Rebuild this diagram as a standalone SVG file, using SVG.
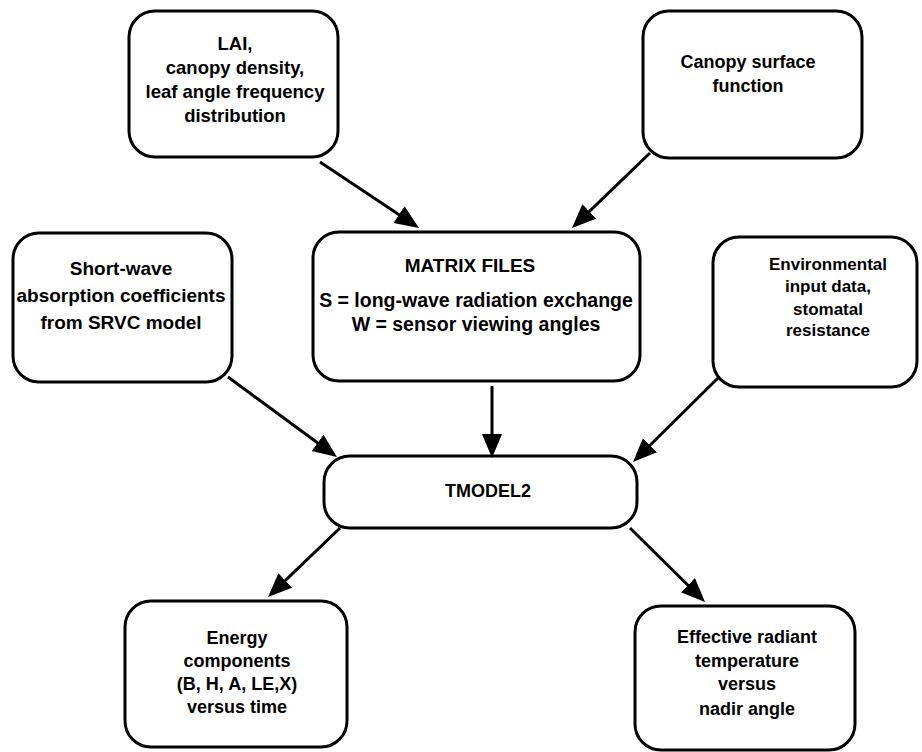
<svg xmlns="http://www.w3.org/2000/svg" width="922" height="752" viewBox="0 0 922 752">
<defs>
<style>
.box{fill:#fff;stroke:#000;stroke-width:3}
.t{font-family:"Liberation Sans",Arial,sans-serif;font-weight:bold;font-size:18px;fill:#000;text-anchor:middle}
.c{stroke:#000;stroke-width:3;fill:none;marker-end:url(#ah)}
</style>
<marker id="ah" markerUnits="userSpaceOnUse" markerWidth="26" markerHeight="22" viewBox="0 0 26 22" refX="15" refY="10" orient="auto">
<path d="M0,0 L24,10 L0,20 z" fill="#000"/>
</marker>
</defs>
<rect width="922" height="752" fill="#fff"/>
<g id="n-lai">
<rect class="box" x="129" y="11" width="209" height="146" rx="26"/>
<text class="t" x="235" y="50" style="font-size:18.5px">LAI,</text>
<text class="t" x="235" y="74" style="font-size:18.5px">canopy density,</text>
<text class="t" x="235" y="98" style="font-size:18.5px">leaf angle frequency</text>
<text class="t" x="235" y="122" style="font-size:18.5px">distribution</text>
</g>
<g id="n-canopy">
<rect class="box" x="643" y="11" width="219" height="147" rx="26"/>
<text class="t" x="748" y="68">Canopy surface</text>
<text class="t" x="748" y="92">function</text>
</g>
<g id="n-shortwave">
<rect class="box" x="13" y="233" width="219" height="149" rx="26"/>
<text class="t" x="121" y="275" style="font-size:19px">Short-wave</text>
<text class="t" x="121" y="302" style="font-size:19px">absorption coefficients</text>
<text class="t" x="121" y="329" style="font-size:19px">from SRVC model</text>
</g>
<g id="n-matrix">
<rect class="box" x="313" y="232" width="327" height="149" rx="26"/>
<text class="t" x="470" y="272" style="font-size:19px">MATRIX FILES</text>
<text class="t" x="476" y="307" style="font-size:19.5px">S = long-wave radiation exchange</text>
<text class="t" x="476" y="331" style="font-size:19.5px">W = sensor viewing angles</text>
</g>
<g id="n-env">
<rect class="box" x="713" y="237" width="204" height="150" rx="26"/>
<text class="t" x="828" y="270" style="font-size:17px">Environmental</text>
<text class="t" x="828" y="292" style="font-size:17px">input  data,</text>
<text class="t" x="828" y="315" style="font-size:17px">stomatal</text>
<text class="t" x="828" y="336" style="font-size:17px">resistance</text>
</g>
<g id="n-tmodel">
<rect class="box" x="324" y="456" width="313" height="72" rx="26"/>
<text class="t" x="488" y="497">TMODEL2</text>
</g>
<g id="n-energy">
<rect class="box" x="125" y="601" width="222" height="146" rx="26"/>
<text class="t" x="237" y="644">Energy</text>
<text class="t" x="237" y="667">components</text>
<text class="t" x="237" y="690">(B, H, A, LE,X)</text>
<text class="t" x="237" y="713">versus time</text>
</g>
<g id="n-effective">
<rect class="box" x="635" y="606" width="220" height="144" rx="26"/>
<text class="t" x="747" y="643">Effective radiant</text>
<text class="t" x="747" y="667">temperature</text>
<text class="t" x="747" y="690">versus</text>
<text class="t" x="747" y="715">nadir angle</text>
</g>
<g id="connectors">
<line class="c" x1="320" y1="162" x2="411.5" y2="223"/>
<line class="c" x1="650" y1="153" x2="578.5" y2="221.8"/>
<line class="c" x1="228" y1="377" x2="329.7" y2="451.7"/>
<line class="c" x1="492" y1="386" x2="492" y2="449"/>
<line class="c" x1="718" y1="378" x2="639.4" y2="455.7"/>
<line class="c" x1="340" y1="528" x2="274.5" y2="590.8"/>
<line class="c" x1="630" y1="528" x2="698.6" y2="595.7"/>
</g>
</svg>
